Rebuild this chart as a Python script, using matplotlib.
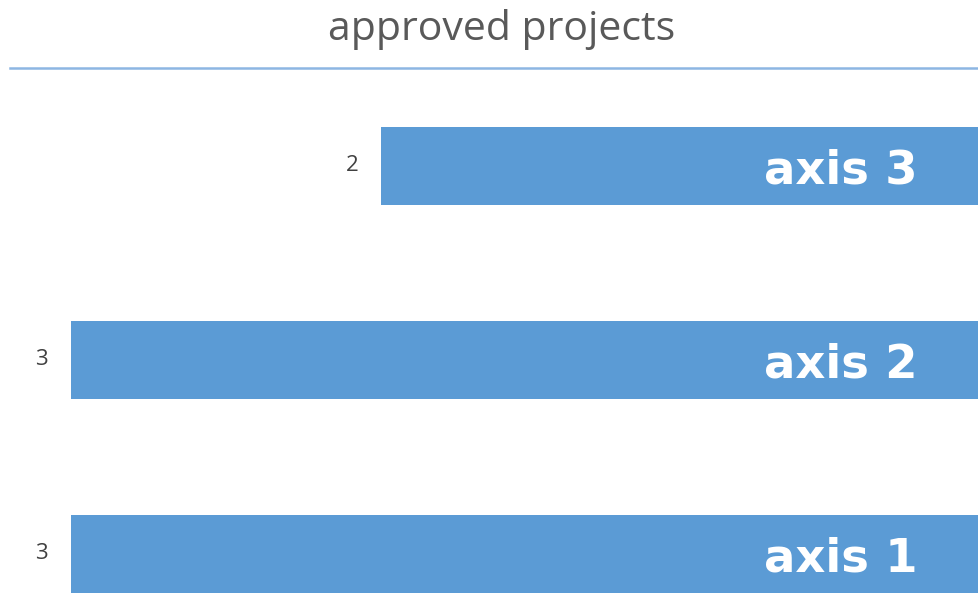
import matplotlib
matplotlib.use("Agg")
from matplotlib import pyplot as plt
from matplotlib.lines import Line2D

# data
categories = ["axis 1", "axis 2", "axis 3"]
values = [3, 3, 2]

bar_color = "#5b9bd5"
line_color = "#8db6e3"

fig = plt.figure(figsize=(9.79, 6.03), dpi=100)
fig.patch.set_facecolor("white")

# axes fill the area below the title line, zero is just past the right edge
ax = fig.add_axes([0, 0, 1, (603 - 68) / 603])
pos = list(range(len(categories)))
ax.barh(pos, values, height=0.4, color=bar_color)
ax.set_xlim(3.229, 0.071)
ax.set_ylim(-0.253, 2.505)
for s in ax.spines.values():
    s.set_visible(False)
ax.set_xticks([])
ax.set_yticks([])

# value labels to the left of each bar
for p, v in zip(pos, values):
    ax.annotate(str(v), (v, p), xytext=(-21, 0), textcoords="offset points",
                ha="center", va="center", fontsize=16, color="#404040",
                family=["Liberation Sans Narrow", "Open Sans", "DejaVu Sans"])

# category names inside the bars
trans = ax.get_yaxis_transform()
for p, c in zip(pos, categories):
    ax.text(918 / 979, p, c, transform=trans, ha="right", va="center_baseline",
            fontsize=33.5, fontweight="bold", color="white", family="DejaVu Sans")

# title and line under it
fig.text(502 / 979, 1 - 30 / 603, "approved projects", ha="center", va="center",
         fontsize=29.5, color="#595959",
         family=["Liberation Sans Narrow", "Open Sans", "DejaVu Sans"])
fig.add_artist(Line2D([10 / 979, 1], [1 - 68 / 603, 1 - 68 / 603],
                      color=line_color, linewidth=1.8, transform=fig.transFigure))

fig.savefig("out.png", dpi=100)
